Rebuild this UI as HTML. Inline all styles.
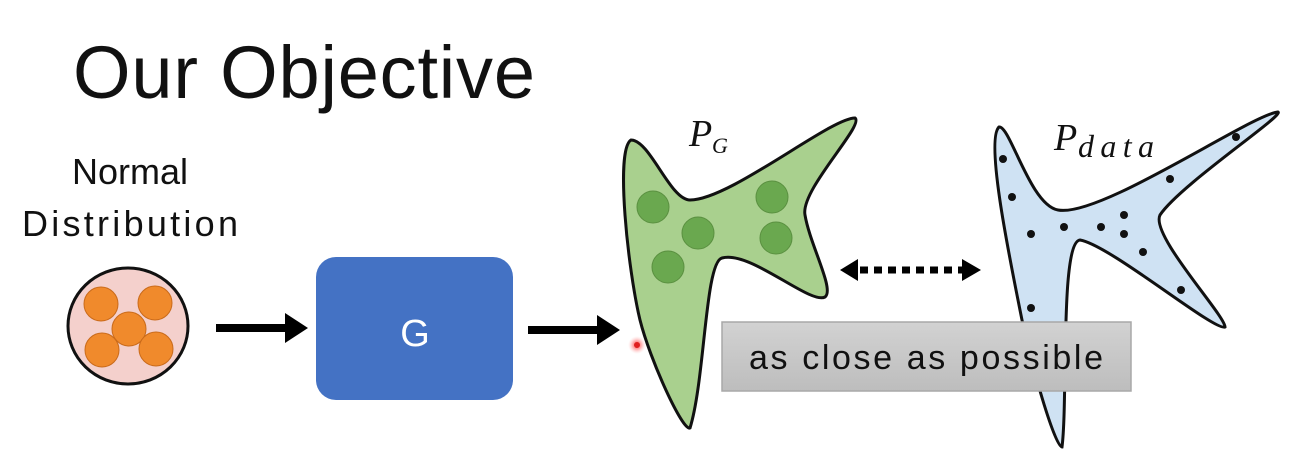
<!DOCTYPE html>
<html><head><meta charset="utf-8"><style>
html,body{margin:0;padding:0;background:#fff;}
svg{display:block;}
</style></head><body>
<svg width="1291" height="472" viewBox="0 0 1291 472" xmlns="http://www.w3.org/2000/svg">
<defs>
<linearGradient id="gb" x1="0" y1="0" x2="0" y2="1">
<stop offset="0" stop-color="#d2d2d2"/><stop offset="1" stop-color="#bdbdbd"/>
</linearGradient>
<radialGradient id="rd"><stop offset="0" stop-color="#ff3030"/><stop offset="0.5" stop-color="#ff8080" stop-opacity="0.6"/><stop offset="1" stop-color="#ffcccc" stop-opacity="0"/></radialGradient>
</defs>
<text x="73" y="98" font-family="Liberation Sans, sans-serif" font-size="74" fill="#111" textLength="462" lengthAdjust="spacing">Our Objective</text>
<text x="130" y="184" text-anchor="middle" font-family="Liberation Sans, sans-serif" font-size="36" fill="#111">Normal</text>
<text x="22" y="236" font-family="Liberation Sans, sans-serif" font-size="36" fill="#111" textLength="216" lengthAdjust="spacing">Distribution</text>

<ellipse cx="128" cy="326" rx="60" ry="58" fill="#f4d0cc" stroke="#111" stroke-width="3"/>
<g fill="#f08a2c" stroke="#c96a1a" stroke-width="1">
<circle cx="101" cy="304" r="17"/><circle cx="155" cy="303" r="17"/><circle cx="129" cy="329" r="17"/><circle cx="102" cy="350" r="17"/><circle cx="156" cy="349" r="17"/>
</g>

<rect x="216" y="324" width="72" height="8" fill="#000"/>
<polygon points="285,313 308,328 285,343" fill="#000"/>
<rect x="316" y="257" width="197" height="143" rx="20" fill="#4472c4"/>
<text x="415" y="346" text-anchor="middle" font-family="Liberation Sans, sans-serif" font-size="38" fill="#fff">G</text>
<rect x="528" y="326" width="72" height="8" fill="#000"/>
<polygon points="597,315 620,330 597,345" fill="#000"/>

<path d="M631,140 C650,140 670,200 690,200 C730,200 830,118 855,118 C865,125 800,190 805,215 C810,245 835,290 825,297 C810,305 750,250 722,258 C705,262 705,380 690,428 C683,432 650,360 640,320 C628,270 615,150 631,140 Z" fill="#a9d08e" stroke="#111" stroke-width="3"/>
<g fill="#6aa84f" stroke="#5a9040" stroke-width="1">
<circle cx="653" cy="207" r="16"/><circle cx="772" cy="197" r="16"/><circle cx="698" cy="233" r="16"/><circle cx="776" cy="238" r="16"/><circle cx="668" cy="267" r="16"/>
</g>
<circle cx="637" cy="345" r="9" fill="url(#rd)"/>
<circle cx="637" cy="345" r="3" fill="#e02020"/>
<text x="689" y="146" font-family="Liberation Serif, serif" font-style="italic" font-size="38" fill="#111">P</text>
<text x="712" y="153" font-family="Liberation Serif, serif" font-style="italic" font-size="22" fill="#111">G</text>

<path d="M999,127 C1010,125 1030,205 1058,210 C1100,218 1250,115 1278,112 C1285,115 1180,185 1160,215 C1150,235 1225,315 1225,327 C1215,332 1110,245 1080,240 C1060,242 1068,400 1062,447 C1055,448 1030,360 1022,320 C1010,260 985,140 999,127 Z" fill="#cfe2f3" stroke="#111" stroke-width="3"/>
<g fill="#111">
<circle cx="1003" cy="159" r="4"/><circle cx="1012" cy="197" r="4"/><circle cx="1031" cy="234" r="4"/><circle cx="1064" cy="227" r="4"/><circle cx="1101" cy="227" r="4"/><circle cx="1124" cy="215" r="4"/><circle cx="1124" cy="234" r="4"/><circle cx="1143" cy="252" r="4"/><circle cx="1170" cy="179" r="4"/><circle cx="1181" cy="290" r="4"/><circle cx="1031" cy="308" r="4"/><circle cx="1236" cy="137" r="4"/>
</g>
<text x="1054" y="150" font-family="Liberation Serif, serif" font-style="italic" font-size="38" fill="#111">P</text>
<text x="1078" y="157" font-family="Liberation Serif, serif" font-style="italic" font-size="32" fill="#111" textLength="76" lengthAdjust="spacing">data</text>

<polygon points="840,270 858,259 858,281" fill="#000"/>
<polygon points="981,270 962,259 962,281" fill="#000"/>
<line x1="860" y1="270" x2="962" y2="270" stroke="#000" stroke-width="7" stroke-dasharray="8,6"/>

<rect x="722" y="322" width="409" height="69" fill="url(#gb)" stroke="#a8a8a8" stroke-width="1.5"/>
<text x="926" y="369" text-anchor="middle" font-family="Liberation Sans, sans-serif" font-size="34" fill="#111" textLength="354" lengthAdjust="spacing">as close as possible</text>
</svg>
</body></html>
